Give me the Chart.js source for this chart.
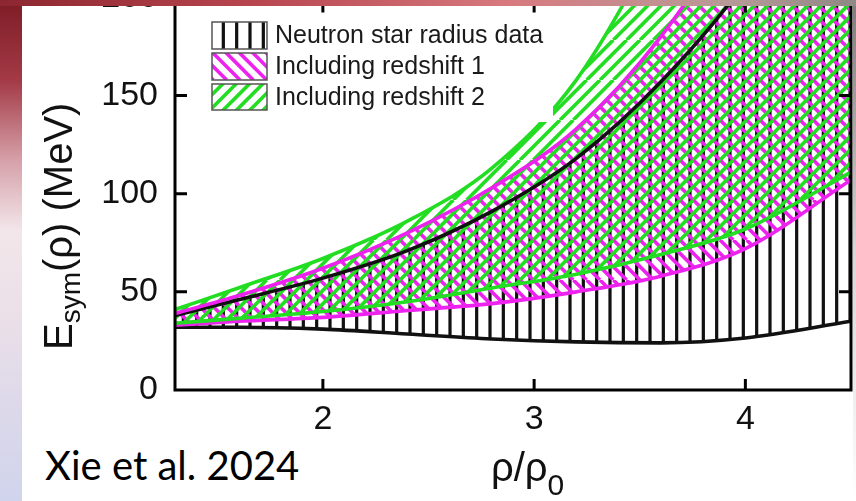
<!DOCTYPE html>
<html>
<head>
<meta charset="utf-8">
<script src="https://cdn.jsdelivr.net/npm/chart.js@4.4.1/dist/chart.umd.min.js"></script>
<style>
  html, body { margin: 0; padding: 0; }
  body {
    width: 856px; height: 501px; overflow: hidden; position: relative;
    background: linear-gradient(to bottom, #7d1c26 0%, #a33a46 16%, #d6a0a9 32%, #f2e6ea 46%, #ebe0e8 62%, #dcd8ea 82%, #d0d4ec 100%);
  }
  #topband { position: absolute; left: 0; top: 0; width: 856px; height: 6px; z-index: 2;
    background: linear-gradient(to right, #8c2630, #b8464f 30%, #d77a80 60%, #b89a98 85%, #8f8884); }
  #panel { position: absolute; left: 22px; top: 6px; width: 831px; height: 495px; background: #fff; }
  #rightband { position: absolute; left: 853px; top: 0; width: 3px; height: 501px;
    background: linear-gradient(to bottom, #807a78, #d8d6d6 50%, #fff); }
  #wrap { position: absolute; left: 0; top: -40px; width: 856px; height: 541px; z-index: 1; }
  #cite { position: absolute; left: 45px; top: 445px; font: 40px/40px Lato, sans-serif; color: #000; white-space: nowrap; }
</style>
</head>
<body>
<div id="topband"></div>
<div id="panel"></div>
<div id="rightband"></div>
<div id="wrap"><canvas id="chart" width="856" height="541"></canvas></div>
<div id="cite">Xie et al. 2024</div>
<script>
// rho / rho0 sample points and the band edges (MeV) at each of them
const densities = [1.3, 1.6, 2.0, 2.4, 2.8, 3.2, 3.6, 4.0, 4.5];
const radiusUpper = [38, 46, 57, 71, 91, 118, 157, 208, 296];
const radiusLower = [32, 32, 31, 28.5, 26, 24.5, 24, 26.5, 35];
const redshift1Upper = [39, 48, 62, 80, 103, 133, 180, 245, 345];
const redshift1Lower = [33, 35, 37, 40.5, 44, 50, 58, 72, 107];
const redshift2Upper = [41, 52, 67, 86, 113, 158, 232, 320, 440];
const redshift2Lower = [34, 36.5, 40, 45, 52, 59, 69, 82, 111];
const seriesNames = ['Neutron star radius data', 'Including redshift 1', 'Including redshift 2'];
const xTicks = [2, 3, 4];
const yTicks = [0, 50, 100, 150, 200];

const FONT = "'Liberation Sans', Arial, sans-serif";
const BLACK = '#111111';
const MAGENTA = '#ee22ee';
const GREEN = '#22dd22';

// repeating hatch tile: '|' vertical, '/' and '\' diagonals
function makeHatch(kind, color, lw) {
  const tile = document.createElement('canvas');
  tile.width = tile.height = 40;
  const g = tile.getContext('2d');
  g.strokeStyle = color;
  g.lineWidth = lw;
  g.beginPath();
  if (kind === '|') {
    [10, 23.33, 36.67].forEach(x => { g.moveTo(x, 0); g.lineTo(x, 40); });
  } else if (kind === '/') {
    for (let k = 0; k <= 6; k++) { const c = k * 40 / 3; g.moveTo(c, 0); g.lineTo(c - 40, 40); }
  } else {
    for (let k = -3; k <= 3; k++) { const c = k * 40 / 3; g.moveTo(c, 0); g.lineTo(c + 40, 40); }
  }
  g.stroke();
  return g.createPattern(tile, 'repeat');
}

const hatchRadius = makeHatch('|', BLACK, 3.2);
const hatchRed1 = makeHatch('\\', MAGENTA, 3.6);
const hatchRed2 = makeHatch('/', GREEN, 3.6);

function edge(vals, color, pattern, fillTarget, order) {
  return {
    data: densities.map((x, i) => ({ x: x, y: vals[i] })),
    borderColor: color,
    borderWidth: 3.6,
    backgroundColor: pattern,
    fill: fillTarget,
    pointRadius: 0,
    cubicInterpolationMode: 'monotone',
    order: order
  };
}

// frame, inward ticks, axis titles and the boxed legend
const decor = {
  id: 'decor',
  afterDatasetsDraw(chart) {
    const ctx = chart.ctx;
    const a = chart.chartArea;
    ctx.save();
    ctx.fillStyle = '#fff';
    ctx.fillRect(a.left + 2, a.top + 2, 553 - a.left - 2, 162 - a.top - 2);

    const swatches = [hatchRadius, hatchRed1, hatchRed2];
    const rows = [[62, 27], [93, 27], [124, 26]];
    ctx.font = '25px ' + FONT;
    ctx.textBaseline = 'middle';
    ctx.textAlign = 'left';
    rows.forEach((r, i) => {
      ctx.fillStyle = swatches[i];
      ctx.fillRect(212, r[0], 55, r[1]);
      ctx.strokeStyle = '#555';
      ctx.lineWidth = 1.5;
      ctx.strokeRect(212, r[0], 55, r[1]);
      ctx.fillStyle = '#1a1a1a';
      ctx.fillText(seriesNames[i], 275, r[0] + r[1] / 2 + 1);
    });
    ctx.restore();
  },
  afterDraw(chart) {
    const ctx = chart.ctx;
    const a = chart.chartArea;
    const xs = chart.scales.x;
    const ys = chart.scales.y;
    ctx.save();
    ctx.strokeStyle = '#000';
    ctx.lineWidth = 3;
    ctx.strokeRect(a.left, a.top, a.right - a.left, a.bottom - a.top);

    ctx.beginPath();
    yTicks.slice(1, -1).forEach(v => {
      const py = ys.getPixelForValue(v);
      ctx.moveTo(a.left, py); ctx.lineTo(a.left + 12, py);
      ctx.moveTo(a.right, py); ctx.lineTo(a.right - 12, py);
    });
    xTicks.forEach(v => {
      const px = xs.getPixelForValue(v);
      ctx.moveTo(px, a.bottom); ctx.lineTo(px, a.bottom - 11);
      ctx.moveTo(px, a.top); ctx.lineTo(px, a.top + 15);
    });
    ctx.stroke();

    ctx.fillStyle = '#111';
    ctx.textBaseline = 'alphabetic';
    ctx.textAlign = 'left';

    // E_sym(rho) (MeV), rotated
    ctx.save();
    ctx.translate(72, 390);
    ctx.rotate(-Math.PI / 2);
    ctx.font = '40px ' + FONT;
    ctx.fillText('E', 0, 0);
    let off = ctx.measureText('E').width;
    ctx.font = '28px ' + FONT;
    ctx.fillText('sym', off, 8);
    off += ctx.measureText('sym').width;
    ctx.font = '40px ' + FONT;
    ctx.fillText('(\u03c1) (MeV)', off, 0);
    ctx.restore();

    // rho/rho0
    ctx.font = '40px ' + FONT;
    ctx.fillText('\u03c1/\u03c1', 491, 521);
    const w = ctx.measureText('\u03c1/\u03c1').width;
    ctx.font = '30px ' + FONT;
    ctx.fillText('0', 491 + w, 535);
    ctx.restore();
  }
};

new Chart(document.getElementById('chart'), {
  type: 'line',
  data: {
    datasets: [
      edge(redshift2Upper, GREEN, hatchRed2, 1, 1),
      edge(redshift2Lower, GREEN, 'transparent', false, 1),
      edge(redshift1Upper, MAGENTA, hatchRed1, 3, 2),
      edge(redshift1Lower, MAGENTA, 'transparent', false, 2),
      edge(radiusUpper, BLACK, hatchRadius, 5, 3),
      edge(radiusLower, BLACK, 'transparent', false, 3)
    ]
  },
  options: {
    responsive: false,
    animation: false,
    devicePixelRatio: 1,
    layout: { padding: { top: 34, right: 5, left: 0, bottom: 0 } },
    plugins: {
      legend: { display: false },
      tooltip: { enabled: false },
      filler: { drawTime: 'beforeDatasetsDraw' }
    },
    scales: {
      x: {
        type: 'linear', min: 1.3, max: 4.5,
        grid: { display: false, drawTicks: false },
        border: { display: false },
        afterBuildTicks: s => { s.ticks = xTicks.map(v => ({ value: v })); },
        afterFit: s => { s.height = 111; },
        ticks: { font: { family: FONT, size: 34 }, color: '#111', padding: 9, callback: v => String(v) }
      },
      y: {
        type: 'linear', min: 0, max: 200,
        grid: { display: false, drawTicks: false },
        border: { display: false },
        afterBuildTicks: s => { s.ticks = yTicks.map(v => ({ value: v })); },
        afterFit: s => { s.width = 175; },
        ticks: { font: { family: FONT, size: 34 }, color: '#111', padding: 17, callback: v => String(v) }
      }
    }
  },
  plugins: [decor]
});
</script>
</body>
</html>
